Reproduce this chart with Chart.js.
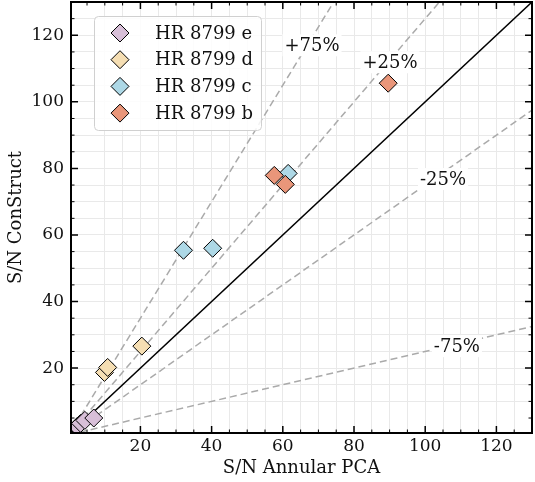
<!DOCTYPE html>
<html>
<head>
<meta charset="utf-8">
<script src="https://cdn.jsdelivr.net/npm/chart.js@4/dist/chart.umd.min.js"></script>
<style>
  body { margin: 0; background: #fff; }
</style>
</head>
<body>
<canvas id="snChart" width="535" height="482"></canvas>
<script>
// S/N values: annular PCA (x) vs ConStruct (y)
const planetNames = ["HR 8799 e", "HR 8799 d", "HR 8799 c", "HR 8799 b"];
const planetColors = ["#d8bfd8", "#f5deb3", "#add8e6", "#e9967a"];

const eX = [2.2, 3.2, 4.4, 6.9];
const eY = [2.4, 3.4, 4.3, 5.0];
const dX = [9.9, 10.8, 20.4];
const dY = [18.7, 20.2, 26.6];
const cX = [32.1, 40.3, 61.5];
const cY = [55.4, 56.0, 78.5];
const bX = [57.6, 60.7, 89.6];
const bY = [77.9, 75.2, 105.6];

// reference lines (end points)
const oneToOne = [{x: 0, y: 0}, {x: 140, y: 140}];
const plus75 = [{x: 0, y: 0}, {x: 140, y: 245}];
const plus25 = [{x: 0, y: 0}, {x: 140, y: 175}];
const minus25 = [{x: 0, y: 0}, {x: 140, y: 105}];
const minus75 = [{x: 0, y: 0}, {x: 140, y: 35}];

const lineLabels = ["+75%", "+25%", "-25%", "-75%"];
const lineLabelX = [68.2, 90.1, 105.0, 108.9];
const lineLabelY = [117.0, 111.9, 76.8, 26.6];

const axisMin = 0.5;
const axisMax = 130;

const serif = "'DejaVu Serif', 'Liberation Serif', serif";

function toPoints(xs, ys){
  let pts = [];
  for (let i = 0; i < xs.length; i++) {
    pts.push({x: xs[i], y: ys[i]});
  }
  return pts;
}

const seriesX = [eX, dX, cX, bX];
const seriesY = [eY, dY, cY, bY];

let datasets = [];
for (let i = 0; i < planetNames.length; i++) {
  datasets.push({
    type: 'scatter',
    label: planetNames[i],
    data: toPoints(seriesX[i], seriesY[i]),
    backgroundColor: planetColors[i],
    borderColor: '#000',
    borderWidth: 1,
    pointStyle: 'rectRot',
    pointRadius: 9,
    pointHoverRadius: 9,
    order: 3 - i
  });
}

function refLine(pts, dashed){
  return {
    type: 'line',
    data: pts,
    borderColor: dashed ? '#aaaaaa' : '#000',
    borderWidth: 1.5,
    borderDash: dashed ? [7, 4] : [],
    pointRadius: 0,
    fill: false,
    order: 10
  };
}
datasets.push(refLine(oneToOne, false));
datasets.push(refLine(plus75, true));
datasets.push(refLine(plus25, true));
datasets.push(refLine(minus25, true));
datasets.push(refLine(minus75, true));

// inward ticks on all four sides plus the frame
const frameTicks = {
  id: 'frameTicks',
  afterDatasetsDraw(chart){
    const ctx = chart.ctx;
    const a = chart.chartArea;
    const xs = chart.scales.x;
    const ys = chart.scales.y;
    ctx.save();
    ctx.strokeStyle = '#000';
    for (let v = 5; v < axisMax; v += 5) {
      const major = v % 20 === 0;
      const len = major ? 7 : 3.5;
      ctx.lineWidth = major ? 1.5 : 1;
      const px = xs.getPixelForValue(v);
      const py = ys.getPixelForValue(v);
      ctx.beginPath();
      ctx.moveTo(px, a.bottom); ctx.lineTo(px, a.bottom - len);
      ctx.moveTo(px, a.top); ctx.lineTo(px, a.top + len);
      ctx.moveTo(a.left, py); ctx.lineTo(a.left + len, py);
      ctx.moveTo(a.right, py); ctx.lineTo(a.right - len, py);
      ctx.stroke();
    }
    ctx.lineWidth = 2;
    ctx.strokeRect(a.left, a.top, a.right - a.left, a.bottom - a.top);
    ctx.restore();
  }
};

// percentage labels with white boxes
const lineText = {
  id: 'lineText',
  afterDatasetsDraw(chart){
    const ctx = chart.ctx;
    ctx.save();
    ctx.font = '18px ' + serif;
    ctx.textAlign = 'center';
    ctx.textBaseline = 'middle';
    for (let i = 0; i < lineLabels.length; i++) {
      const px = chart.scales.x.getPixelForValue(lineLabelX[i]);
      const py = chart.scales.y.getPixelForValue(lineLabelY[i]);
      const w = ctx.measureText(lineLabels[i]).width;
      ctx.fillStyle = '#fff';
      ctx.fillRect(px - w / 2 - 2, py - 11, w + 4, 22);
      ctx.fillStyle = '#111';
      ctx.fillText(lineLabels[i], px, py + 1);
    }
    ctx.restore();
  }
};

// legend box in the upper left of the plot
const boxLegend = {
  id: 'boxLegend',
  afterDraw(chart){
    const ctx = chart.ctx;
    ctx.save();
    ctx.beginPath();
    ctx.roundRect(94.5, 16.5, 167, 114, 4);
    ctx.fillStyle = 'rgba(255,255,255,0.85)';
    ctx.fill();
    ctx.strokeStyle = '#d0d0d0';
    ctx.lineWidth = 1;
    ctx.stroke();
    ctx.font = '18px ' + serif;
    ctx.textAlign = 'left';
    ctx.textBaseline = 'middle';
    for (let i = 0; i < planetNames.length; i++) {
      const cy = 33 + i * 26.7;
      const cx = 120;
      const r = 9;
      ctx.beginPath();
      ctx.moveTo(cx, cy - r);
      ctx.lineTo(cx + r, cy);
      ctx.lineTo(cx, cy + r);
      ctx.lineTo(cx - r, cy);
      ctx.closePath();
      ctx.fillStyle = planetColors[i];
      ctx.fill();
      ctx.strokeStyle = '#000';
      ctx.stroke();
      ctx.fillStyle = '#111';
      ctx.fillText(planetNames[i], 155, cy + 1);
    }
    ctx.restore();
  }
};

function tickLabel(value){
  if (value > 0 && value % 20 === 0) {
    return String(value);
  }
  return '';
}

function noPadding(scale){
  scale.paddingTop = 0;
  scale.paddingBottom = 0;
  scale.paddingLeft = 0;
  scale.paddingRight = 0;
}

const ctx = document.getElementById('snChart');
const myChart = new Chart(ctx, {
  data: { datasets: datasets },
  options: {
    responsive: false,
    animation: false,
    layout: {
      autoPadding: false,
      padding: { top: 2, right: 3, left: 0, bottom: 0 }
    },
    plugins: {
      legend: { display: false },
      tooltip: { enabled: false }
    },
    scales: {
      x: {
        type: 'linear',
        min: axisMin,
        max: axisMax,
        ticks: {
          stepSize: 5,
          autoSkip: false,
          maxRotation: 0,
          padding: 3,
          color: '#111',
          font: { family: serif, size: 17 },
          callback: tickLabel
        },
        grid: { color: '#e9e9e9', lineWidth: 1, drawTicks: false },
        border: { display: false },
        title: {
          display: true,
          text: 'S/N Annular PCA',
          color: '#111',
          font: { family: serif, size: 18 },
          padding: { top: 0, bottom: 3 }
        },
        afterFit(scale){ scale.height = 49; noPadding(scale); }
      },
      y: {
        type: 'linear',
        min: axisMin,
        max: axisMax,
        ticks: {
          stepSize: 5,
          autoSkip: false,
          padding: 7,
          color: '#111',
          font: { family: serif, size: 17 },
          callback: tickLabel
        },
        grid: { color: '#e9e9e9', lineWidth: 1, drawTicks: false },
        border: { display: false },
        title: {
          display: true,
          text: 'S/N ConStruct',
          color: '#111',
          font: { family: serif, size: 18 },
          padding: { top: 6, bottom: 0 }
        },
        afterFit(scale){ scale.width = 71; noPadding(scale); }
      }
    }
  },
  plugins: [frameTicks, lineText, boxLegend]
});
</script>
</body>
</html>
